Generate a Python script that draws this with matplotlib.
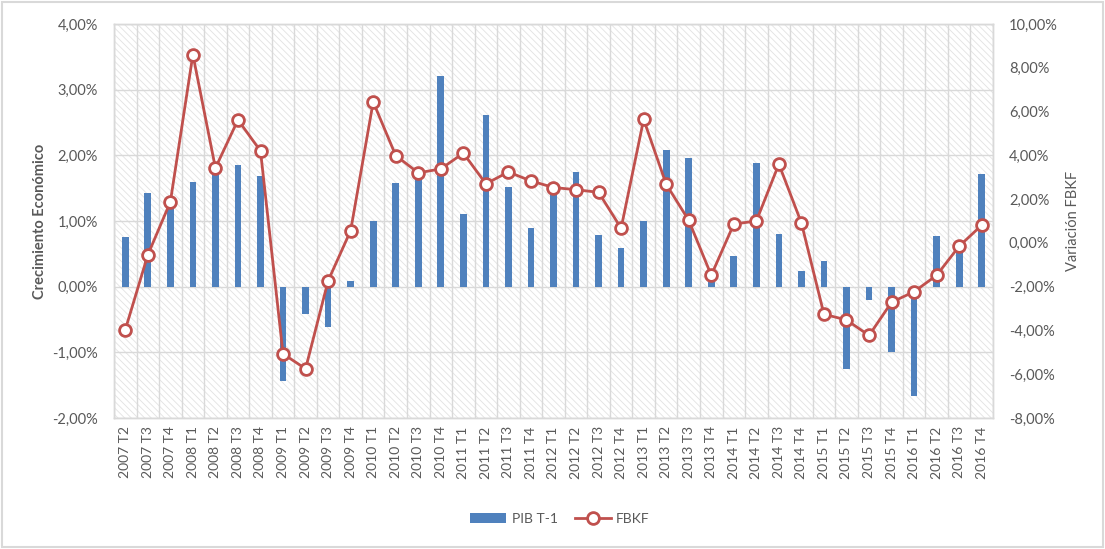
import matplotlib
matplotlib.use("Agg")
import matplotlib.pyplot as plt
from matplotlib.patches import Rectangle
from matplotlib.lines import Line2D
from matplotlib.patches import Patch
from matplotlib.ticker import FuncFormatter, MultipleLocator
import numpy as np

categories = ["2007 T2", "2007 T3", "2007 T4",
              "2008 T1", "2008 T2", "2008 T3", "2008 T4",
              "2009 T1", "2009 T2", "2009 T3", "2009 T4",
              "2010 T1", "2010 T2", "2010 T3", "2010 T4",
              "2011 T1", "2011 T2", "2011 T3", "2011 T4",
              "2012 T1", "2012 T2", "2012 T3", "2012 T4",
              "2013 T1", "2013 T2", "2013 T3", "2013 T4",
              "2014 T1", "2014 T2", "2014 T3", "2014 T4",
              "2015 T1", "2015 T2", "2015 T3", "2015 T4",
              "2016 T1", "2016 T2", "2016 T3", "2016 T4"]

pib_t1 = [0.75, 1.43, 1.28, 1.60, 1.78, 1.86, 1.69,
          -1.43, -0.41, -0.62, 0.09,
          1.00, 1.58, 1.70, 3.21,
          1.10, 2.62, 1.52, 0.90,
          1.48, 1.75, 0.78, 0.59,
          1.00, 2.08, 1.96, 0.07,
          0.46, 1.89, 0.80, 0.24,
          0.39, -1.25, -0.20, -1.00,
          -1.67, 0.77, 0.62, 1.72]

fbkf = [-3.97, -0.55, 1.87, 8.60, 3.42, 5.62, 4.20,
        -5.07, -5.75, -1.73, 0.56,
        6.44, 3.99, 3.20, 3.38,
        4.10, 2.70, 3.24, 2.83,
        2.53, 2.43, 2.31, 0.67,
        5.64, 2.68, 1.03, -1.48,
        0.86, 1.00, 3.60, 0.91,
        -3.26, -3.52, -4.23, -2.71,
        -2.23, -1.48, -0.15, 0.81]

plt.rcParams['font.family'] = ['Lato', 'DejaVu Sans']
plt.rcParams['hatch.linewidth'] = 0.6
plt.rcParams['hatch.color'] = '#e2e2e2'

W, H = 1105, 549
fig = plt.figure(figsize=(W / 100, H / 100), dpi=100)
fig.patch.set_facecolor('white')

l, r, t, b = 114, 993, 24, 418
ax = fig.add_axes([l / W, 1 - b / H, (r - l) / W, (b - t) / H])
ax2 = ax.twinx()

x = np.arange(len(categories))
gray = '#595959'
gridc = '#d9d9d9'

# hatched background
ax.patch.set_facecolor('white')
bg = Rectangle((0, 0), 1, 1, transform=ax.transAxes, facecolor='white',
               edgecolor='#e2e2e2', hatch='\\' * 5, linewidth=0, zorder=0)
ax.add_patch(bg)

ax.bar(x, pib_t1, width=0.3, color='#4f81bd', zorder=3)
ax.set_xlim(-0.5, len(categories) - 0.5)
ax.set_ylim(-2, 4)
ax.yaxis.set_major_locator(MultipleLocator(1))
ax.yaxis.set_major_formatter(FuncFormatter(lambda v, p: f"{v:.2f}%".replace('.', ',')))

# grid
for yv in np.arange(-2, 4.01, 1):
    ax.axhline(yv, color=gridc, lw=1, zorder=1)
for xv in np.arange(-0.5, len(categories), 1):
    ax.axvline(xv, color=gridc, lw=1, zorder=1)

ax.set_xticks(x)
ax.set_xticklabels(categories, rotation=90, fontsize=10, color=gray)
ax.tick_params(axis='both', length=0, colors=gray, labelsize=10.5)
ax.tick_params(axis='x', labelsize=10, pad=6)
ax.tick_params(axis='y', pad=11.5)

ax2.plot(x, fbkf, color='#c0504d', lw=2, marker='o', markersize=8.5,
         markerfacecolor='white', markeredgecolor='#c0504d', markeredgewidth=2,
         zorder=5)
ax2.set_ylim(-8, 10)
ax2.yaxis.set_major_locator(MultipleLocator(2))
ax2.yaxis.set_major_formatter(FuncFormatter(lambda v, p: f"{v:.2f}%".replace('.', ',')))
ax2.tick_params(axis='y', length=0, colors=gray, labelsize=10.5, pad=11.5)

for a in (ax, ax2):
    for s in a.spines.values():
        s.set_color(gridc)
        s.set_linewidth(1)

fig.text(40 / W, 1 - 221 / H, "Crecimiento Económico", rotation=90,
         ha='center', va='center', fontsize=10.5, color=gray, fontweight='bold')
fig.text(1073 / W, 1 - 221 / H, "Variación FBKF", rotation=90,
         ha='center', va='center', fontsize=10.5, color=gray)

handles = [Patch(facecolor='#4f81bd', edgecolor='none', label='PIB T-1'),
           Line2D([0], [0], color='#c0504d', lw=2, marker='o', markersize=8.5,
                  markerfacecolor='white', markeredgecolor='#c0504d',
                  markeredgewidth=2, label='FBKF')]
fig.legend(handles=handles, loc='center', bbox_to_anchor=(560 / W, 1 - 519 / H),
           ncol=2, frameon=False, fontsize=10, labelcolor=gray,
           handlelength=2.6, columnspacing=1.2, handletextpad=0.4)

# figure border
fig.add_artist(Rectangle((2 / W, 2 / H), (W - 4) / W, (H - 4) / H,
                         transform=fig.transFigure, fill=False,
                         edgecolor='#d9d9d9', linewidth=1.5))

fig.savefig('out.png', dpi=100)
